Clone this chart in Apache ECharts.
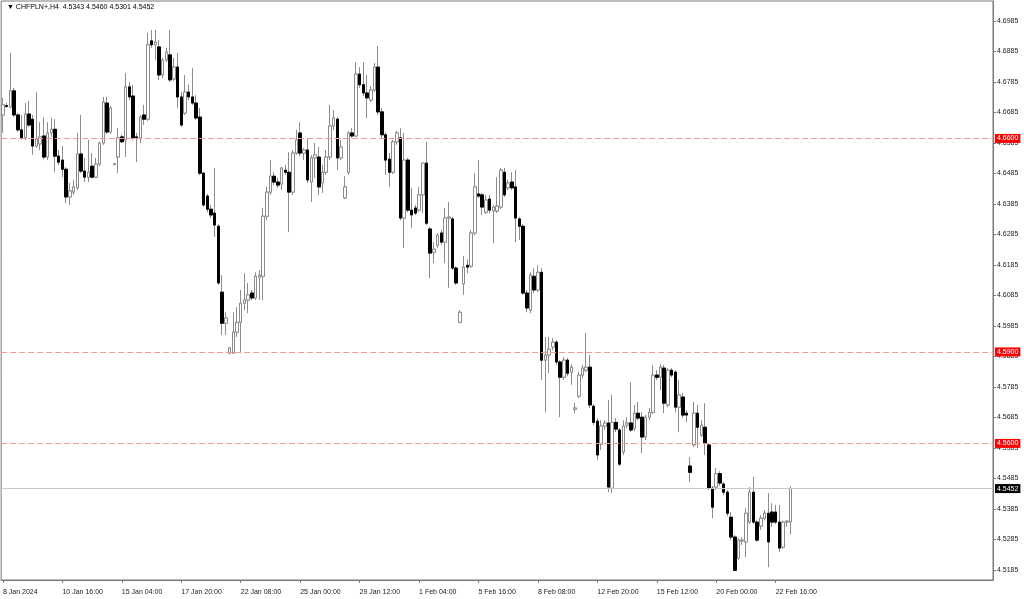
<!DOCTYPE html>
<html><head><meta charset="utf-8">
<script src="https://cdn.jsdelivr.net/npm/echarts@6/dist/echarts.min.js"></script>
<style>html,body{margin:0;padding:0;background:#fff}#c{width:1024px;height:599px}</style>
</head><body><div id="c"></div>
<script>
const symbol = 'CHFPLN+';
const timeframe = 'H4';
const xTickLabels = ['8 Jan 2024','10 Jan 16:00','15 Jan 04:00','17 Jan 20:00','22 Jan 08:00','25 Jan 00:00','29 Jan 12:00','1 Feb 04:00','5 Feb 16:00','8 Feb 08:00','12 Feb 20:00','15 Feb 12:00','20 Feb 00:00','22 Feb 16:00'];
const yTickValues = [4.5185,4.5285,4.5385,4.5485,4.5585,4.5685,4.5785,4.5885,4.5985,4.6085,4.6185,4.6285,4.6385,4.6485,4.6585,4.6685,4.6785,4.6885,4.6985];
const levels = [4.6600, 4.5900, 4.5600];

const opens = [4.6677,4.6708,4.6703,4.6756,4.6677,4.6628,4.6602,4.6680,4.6663,4.6575,4.6582,4.6608,4.6539,4.6618,4.6630,4.6542,4.6529,4.6499,4.6408,4.6424,
4.6438,4.6549,4.6493,4.6473,4.6509,4.6473,4.6516,4.6585,4.6716,4.6621,4.6514,4.6539,4.6605,4.6595,4.6769,4.6739,4.6605,4.6602,4.6677,4.6663,
4.6920,4.6907,4.6900,4.6808,4.6857,4.6874,4.6795,4.6834,4.6736,4.6683,4.6752,4.6736,4.6716,4.6670,4.6486,4.6411,4.6368,4.6355,4.6312,4.6096,
4.5994,4.5896,4.5896,4.5965,4.5997,4.6060,4.6070,4.6093,4.6077,4.6145,4.6148,4.6345,4.6424,4.6476,4.6457,4.6451,4.6496,4.6489,4.6424,4.6552,
4.6618,4.6552,4.6562,4.6457,4.6536,4.6539,4.6454,4.6489,4.6539,4.6641,4.6663,4.6536,4.6405,4.6489,4.6618,4.6608,4.6811,4.6776,4.6749,4.6726,
4.6759,4.6834,4.6687,4.6612,4.6532,4.6489,4.6589,4.6602,4.6339,4.6529,4.6365,4.6372,4.6365,4.6415,4.6519,4.6303,4.6227,4.6250,4.6290,4.6260,
4.6339,4.6336,4.6175,4.5997,4.6123,4.6184,4.6181,4.6290,4.6418,4.6415,4.6358,4.6401,4.6362,4.6362,4.6375,4.6489,4.6438,4.6457,4.6441,4.6336,
4.6312,4.6093,4.6037,4.6148,4.6103,4.6161,4.5873,4.5890,4.5916,4.5932,4.5867,4.5817,4.5873,4.5834,4.5712,4.5755,4.5824,4.5840,4.5850,4.5722,
4.5673,4.5598,4.5657,4.5667,4.5453,4.5669,4.5644,4.5572,4.5660,4.5667,4.5650,4.5699,4.5686,4.5621,4.5686,4.5702,4.5824,4.5817,4.5847,4.5726,
4.5840,4.5834,4.5719,4.5752,4.5699,4.5526,4.5595,4.5699,4.5627,4.5653,4.5595,4.5453,4.5457,4.5501,4.5467,4.5440,4.5358,4.5293,4.5224,4.5280,
4.5277,4.5342,4.5440,4.5342,4.5329,4.5355,4.5371,4.5375,4.5375,4.5342,4.5260,4.5342,4.5343];
const closes = [4.6710,4.6705,4.6756,4.6677,4.6628,4.6602,4.6680,4.6644,4.6575,4.6598,4.6605,4.6539,4.6618,4.6630,4.6542,4.6522,4.6499,4.6408,4.6428,4.6441,
4.6549,4.6493,4.6473,4.6489,4.6473,4.6516,4.6585,4.6719,4.6621,4.6700,4.6517,4.6602,4.6589,4.6769,4.6736,4.6602,4.6602,4.6670,4.6663,4.6907,
4.6907,4.6916,4.6808,4.6857,4.6883,4.6792,4.6834,4.6736,4.6644,4.6752,4.6736,4.6716,4.6667,4.6486,4.6382,4.6368,4.6349,4.6316,4.6126,4.5994,
4.6011,4.5913,4.5965,4.5997,4.6060,4.6070,4.6087,4.6077,4.6148,4.6152,4.6345,4.6424,4.6476,4.6457,4.6447,4.6503,4.6489,4.6424,4.6552,4.6595,
4.6552,4.6562,4.6464,4.6536,4.6546,4.6441,4.6489,4.6539,4.6641,4.6667,4.6536,4.6572,4.6441,4.6618,4.6608,4.6811,4.6776,4.6749,4.6733,4.6759,
4.6834,4.6687,4.6612,4.6529,4.6489,4.6589,4.6618,4.6339,4.6529,4.6365,4.6349,4.6355,4.6415,4.6519,4.6322,4.6224,4.6237,4.6283,4.6260,4.6339,
4.6342,4.6175,4.6126,4.6030,4.6178,4.6178,4.6290,4.6441,4.6411,4.6375,4.6398,4.6365,4.6375,4.6378,4.6496,4.6415,4.6454,4.6438,4.6339,4.6312,
4.6093,4.6044,4.6152,4.6103,4.6161,4.5873,4.5890,4.5909,4.5932,4.5867,4.5817,4.5873,4.5830,4.5850,4.5716,4.5824,4.5847,4.5850,4.5726,4.5669,
4.5562,4.5657,4.5667,4.5457,4.5669,4.5647,4.5532,4.5657,4.5667,4.5644,4.5699,4.5683,4.5621,4.5686,4.5702,4.5824,4.5817,4.5850,4.5732,4.5840,
4.5824,4.5719,4.5759,4.5693,4.5693,4.5505,4.5699,4.5653,4.5660,4.5601,4.5453,4.5391,4.5501,4.5470,4.5440,4.5371,4.5293,4.5184,4.5283,4.5283,
4.5371,4.5440,4.5342,4.5283,4.5355,4.5371,4.5277,4.5342,4.5342,4.5257,4.5342,4.5345,4.5452];
const lows = [4.6618,4.6700,4.6700,4.6670,4.6621,4.6595,4.6595,4.6637,4.6546,4.6569,4.6562,4.6532,4.6529,4.6605,4.6489,4.6513,4.6473,4.6388,4.6382,4.6415,
4.6431,4.6486,4.6457,4.6457,4.6470,4.6470,4.6509,4.6579,4.6615,4.6615,4.6513,4.6486,4.6585,4.6539,4.6726,4.6595,4.6522,4.6585,4.6644,4.6657,
4.6897,4.6857,4.6792,4.6798,4.6850,4.6785,4.6789,4.6700,4.6637,4.6677,4.6726,4.6710,4.6660,4.6480,4.6375,4.6358,4.6339,4.6277,4.6120,4.5956,
4.5956,4.5893,4.5893,4.5949,4.5896,4.6037,4.6027,4.6070,4.6070,4.6070,4.6070,4.6332,4.6415,4.6447,4.6438,4.6431,4.6480,4.6293,4.6415,4.6546,
4.6542,4.6529,4.6454,4.6391,4.6470,4.6415,4.6421,4.6480,4.6529,4.6628,4.6496,4.6529,4.6401,4.6480,4.6602,4.6605,4.6766,4.6739,4.6667,4.6719,
4.6752,4.6677,4.6602,4.6480,4.6441,4.6483,4.6579,4.6332,4.6241,4.6358,4.6306,4.6349,4.6358,4.6355,4.6316,4.6142,4.6191,4.6241,4.6250,4.6191,
4.6110,4.6168,4.6120,4.5994,4.6087,4.6158,4.6175,4.6283,4.6405,4.6349,4.6352,4.6355,4.6257,4.6355,4.6368,4.6408,4.6431,4.6431,4.6260,4.6267,
4.6087,4.6030,4.6027,4.6093,4.6096,4.5808,4.5702,4.5830,4.5906,4.5857,4.5686,4.5808,4.5820,4.5792,4.5699,4.5749,4.5814,4.5834,4.5716,4.5660,
4.5545,4.5578,4.5644,4.5440,4.5437,4.5637,4.5526,4.5562,4.5650,4.5637,4.5640,4.5676,4.5568,4.5611,4.5676,4.5696,4.5808,4.5775,4.5699,4.5719,
4.5817,4.5702,4.5637,4.5683,4.5669,4.5473,4.5588,4.5585,4.5621,4.5562,4.5447,4.5355,4.5447,4.5460,4.5430,4.5361,4.5283,4.5181,4.5217,4.5267,
4.5227,4.5336,4.5336,4.5277,4.5316,4.5348,4.5194,4.5326,4.5336,4.5244,4.5254,4.5326,4.5301];
const highs = [4.6733,4.6716,4.6880,4.6766,4.6683,4.6677,4.6716,4.6723,4.6677,4.6752,4.6653,4.6670,4.6653,4.6667,4.6663,4.6562,4.6575,4.6506,4.6454,4.6464,
4.6618,4.6677,4.6536,4.6595,4.6552,4.6536,4.6589,4.6736,4.6736,4.6706,4.6519,4.6634,4.6612,4.6814,4.6785,4.6776,4.6618,4.6677,4.6710,4.6946,
4.6956,4.6956,4.6923,4.6864,4.6897,4.6956,4.6864,4.6880,4.6752,4.6808,4.6776,4.6831,4.6742,4.6700,4.6489,4.6418,4.6382,4.6503,4.6319,4.6152,
4.6030,4.5916,4.6030,4.6047,4.6103,4.6158,4.6126,4.6103,4.6161,4.6168,4.6372,4.6441,4.6529,4.6489,4.6470,4.6506,4.6513,4.6555,4.6562,4.6628,
4.6653,4.6569,4.6598,4.6546,4.6585,4.6572,4.6513,4.6562,4.6710,4.6693,4.6670,4.6595,4.6476,4.6625,4.6634,4.6850,4.6834,4.6850,4.6808,4.6772,
4.6847,4.6903,4.6700,4.6618,4.6552,4.6595,4.6625,4.6634,4.6618,4.6536,4.6438,4.6382,4.6441,4.6522,4.6589,4.6309,4.6260,4.6290,4.6300,4.6372,
4.6391,4.6342,4.6181,4.6037,4.6214,4.6204,4.6300,4.6486,4.6529,4.6421,4.6415,4.6415,4.6382,4.6473,4.6503,4.6503,4.6464,4.6489,4.6496,4.6342,
4.6319,4.6103,4.6161,4.6175,4.6184,4.6175,4.5949,4.5949,4.5945,4.5939,4.5873,4.5883,4.5880,4.5860,4.5732,4.5834,4.5857,4.5962,4.5890,4.5729,
4.5683,4.5676,4.5676,4.5742,4.5759,4.5683,4.5650,4.5676,4.5686,4.5801,4.5726,4.5736,4.5702,4.5693,4.5716,4.5857,4.5840,4.5860,4.5857,4.5847,
4.5847,4.5840,4.5808,4.5765,4.5709,4.5555,4.5736,4.5726,4.5676,4.5732,4.5601,4.5460,4.5519,4.5509,4.5473,4.5447,4.5375,4.5300,4.5290,4.5293,
4.5388,4.5457,4.5490,4.5348,4.5365,4.5381,4.5437,4.5404,4.5398,4.5398,4.5348,4.5348,4.5460];

const TOTAL_SLOTS = 267;   // visible bar slots incl. right-side shift
const TICK_EVERY = 16;     // bars between time labels
const categories = [];
for (let i = 0; i < TOTAL_SLOTS; i++) categories.push(String(i));
const candles = opens.map((o, i) => [o, closes[i], lows[i], highs[i]]);
const bodies = opens.map((o, i) => [o, closes[i], Math.min(o, closes[i]), Math.max(o, closes[i])]);
const last = opens.length - 1;
const isTick = (idx) => idx % TICK_EVERY === 0 && idx / TICK_EVERY < xTickLabels.length;
const fmt = (v) => Number(v).toFixed(4);
const FONT = 'Liberation Sans, Arial, sans-serif';
const WICK = '#8c8c8c';

const chart = echarts.init(document.getElementById('c'), null, {renderer: 'canvas'});
chart.setOption({
  animation: false,
  backgroundColor: '#ffffff',
  title: {
    text: '\u25BC ' + symbol + ',' + timeframe + '  ' + [opens[last], highs[last], lows[last], closes[last]].map(fmt).join(' '),
    left: 2, top: -1,
    textStyle: {fontSize: 7, fontWeight: 'normal', color: '#000', fontFamily: FONT}
  },
  grid: {left: 1, right: 31, top: 1, bottom: 19, show: true, borderColor: '#7a7a7a', borderWidth: 1, backgroundColor: '#fff'},
  xAxis: {
    type: 'category', data: categories, boundaryGap: true,
    axisLine: {show: true, lineStyle: {color: '#7a7a7a'}},
    axisTick: {show: true, alignWithLabel: true, interval: (idx) => isTick(idx), length: 3, lineStyle: {color: '#7a7a7a'}},
    axisLabel: {interval: (idx) => isTick(idx), formatter: (v, idx) => xTickLabels[idx / TICK_EVERY] || '', align: 'left', fontSize: 7, color: '#222', margin: 9, fontFamily: FONT},
    splitLine: {show: false}
  },
  yAxis: {
    type: 'value', position: 'right', min: 4.51522, max: 4.70506, scale: true,
    axisLine: {show: true, lineStyle: {color: '#7a7a7a'}},
    axisTick: {show: true, length: 3, customValues: yTickValues, lineStyle: {color: '#7a7a7a'}},
    axisLabel: {customValues: yTickValues, formatter: fmt, fontSize: 7, color: '#222', margin: 4, fontFamily: FONT},
    splitLine: {show: false}
  },
  series: [{
    type: 'candlestick',
    name: 'wicks',
    data: candles,
    barWidth: 3,
    z: 2,
    itemStyle: {color: 'rgba(0,0,0,0)', color0: 'rgba(0,0,0,0)', borderColor: WICK, borderColor0: WICK, borderWidth: 1}
  }, {
    type: 'candlestick',
    name: 'bodies',
    data: bodies,
    barWidth: 3,
    z: 3,
    itemStyle: {color: '#ffffff', color0: '#000000', borderColor: WICK, borderColor0: '#000000', borderWidth: 1},
    markLine: {
      symbol: 'none', silent: true, animation: false, precision: 4,
      label: {show: true, position: 'end', formatter: (p) => fmt(p.value), fontSize: 7, fontFamily: FONT, padding: [1, 2, 1, 2], distance: 2},
      data: levels.map((v) => ({yAxis: v, lineStyle: {color: '#f29a9a', type: [6, 3], width: 1}, label: {backgroundColor: '#ff0000', color: '#ffffff'}}))
        .concat([{yAxis: closes[last], lineStyle: {color: '#c8c8c8', type: 'solid', width: 1}, label: {backgroundColor: '#000000', color: '#ffffff'}}])
    }
  }]
});
</script></body></html>
